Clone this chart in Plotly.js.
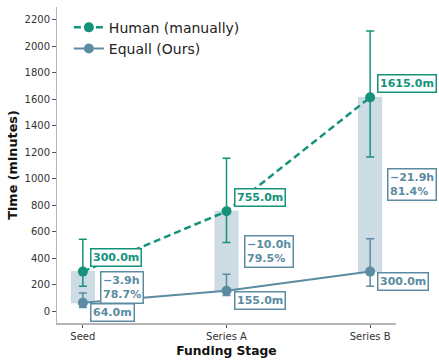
<!DOCTYPE html>
<html>
<head>
<meta charset="utf-8">
<script src="https://cdn.plot.ly/plotly-3.0.1.min.js"></script>
<style>html,body{margin:0;padding:0;background:#fff;}#chart{width:439px;height:364px;}</style>
</head>
<body>
<div id="chart"></div>
<script>
const stages = ["Seed", "Series A", "Series B"];
const humanTime = [300, 755, 1615];
const humanErrPlus = [245, 400, 500];
const humanErrMinus = [110, 235, 450];
const equallTime = [64, 155, 300];
const equallErrPlus = [75, 125, 248];
const equallErrMinus = [35, 36, 110];

const GREEN = '#14937a';
const BLUE = '#5b8ca2';
const FONT = 'DejaVu Sans, sans-serif';

const gap = humanTime.map((h, i) => h - equallTime[i]);

const traces = [
  {
    type: 'bar', x: stages, y: gap, base: equallTime, width: 0.16,
    marker: {color: 'rgba(186,206,217,0.72)', line: {color: 'rgba(200,215,224,1)', width: 1}},
    showlegend: false, hoverinfo: 'skip'
  },
  {
    type: 'scatter', mode: 'lines+markers', name: 'Human (manually)',
    x: stages, y: humanTime,
    line: {color: GREEN, width: 2.5, dash: '7px,4px'},
    marker: {color: GREEN, size: 10},
    error_y: {type: 'data', symmetric: false, array: humanErrPlus, arrayminus: humanErrMinus,
              color: GREEN, thickness: 1.5, width: 4}
  },
  {
    type: 'scatter', mode: 'lines+markers', name: 'Equall (Ours)',
    x: stages, y: equallTime,
    line: {color: BLUE, width: 2},
    marker: {color: BLUE, size: 10},
    error_y: {type: 'data', symmetric: false, array: equallErrPlus, arrayminus: equallErrMinus,
              color: BLUE, thickness: 1.5, width: 4}
  }
];

const annotations = [];
stages.forEach((s, i) => {
  annotations.push({
    x: s, y: humanTime[i], xref: 'x', yref: 'y', text: humanTime[i].toFixed(1) + 'm',
    showarrow: false, xanchor: 'left', yanchor: 'middle', xshift: 7, yshift: 14,
    font: {family: FONT, size: 11, color: GREEN, weight: 'bold'},
    bgcolor: '#ffffff', bordercolor: GREEN, borderwidth: 1.5, borderpad: 1.5
  });
  annotations.push({
    x: s, y: equallTime[i], xref: 'x', yref: 'y', text: equallTime[i].toFixed(1) + 'm',
    showarrow: false, xanchor: 'left', yanchor: 'middle', xshift: 7, yshift: -10,
    font: {family: FONT, size: 11, color: BLUE, weight: 'bold'},
    bgcolor: '#ffffff', bordercolor: BLUE, borderwidth: 1.5, borderpad: 1.5
  });
  const dh = (equallTime[i] - humanTime[i]) / 60;
  const pct = (humanTime[i] - equallTime[i]) / humanTime[i] * 100;
  annotations.push({
    x: s, y: (humanTime[i] + equallTime[i]) / 2, xref: 'x', yref: 'y',
    text: '\u2212' + Math.abs(dh).toFixed(1) + 'h<br>' + pct.toFixed(1) + '%',
    align: 'left',
    showarrow: false, xanchor: 'left', yanchor: 'middle', xshift: 17, yshift: 0,
    font: {family: FONT, size: 11, color: BLUE, weight: 'bold'},
    bgcolor: '#ffffff', bordercolor: BLUE, borderwidth: 1.5, borderpad: 1.5
  });
});

const layout = {
  width: 439, height: 364,
  margin: {l: 57, r: 43, t: 7, b: 41},
  paper_bgcolor: '#ffffff', plot_bgcolor: '#ffffff',
  font: {family: FONT, color: '#333333'},
  showlegend: true,
  legend: {x: 0.035, y: 0.985, xanchor: 'left', yanchor: 'top', bgcolor: 'rgba(255,255,255,0)',
           font: {family: FONT, size: 14, color: '#222'}, tracegroupgap: 0},
  xaxis: {
    type: 'category', range: [-0.18, 2.18],
    showline: true, linecolor: '#b5b5b5', linewidth: 1.5, mirror: false,
    showgrid: false, zeroline: false,
    ticks: 'outside', ticklen: 3.5, tickcolor: '#555', tickwidth: 1,
    tickfont: {family: FONT, size: 10, color: '#333'},
    title: {text: 'Funding Stage', font: {family: FONT, size: 12.3, color: '#111', weight: 'bold'}, standoff: 5}
  },
  yaxis: {
    range: [-88, 2297],
    tickvals: [0, 200, 400, 600, 800, 1000, 1200, 1400, 1600, 1800, 2000, 2200],
    showline: true, linecolor: '#b5b5b5', linewidth: 1.5,
    showgrid: false, zeroline: false,
    ticks: 'outside', ticklen: 3.5, tickcolor: '#555', tickwidth: 1,
    tickfont: {family: FONT, size: 10, color: '#333'},
    title: {text: 'Time (minutes)', font: {family: FONT, size: 12.8, color: '#111', weight: 'bold'}, standoff: 4}
  },
  annotations: annotations,
  bargap: 0
};

Plotly.newPlot('chart', traces, layout, {displayModeBar: false, staticPlot: true});
</script>
</body>
</html>
